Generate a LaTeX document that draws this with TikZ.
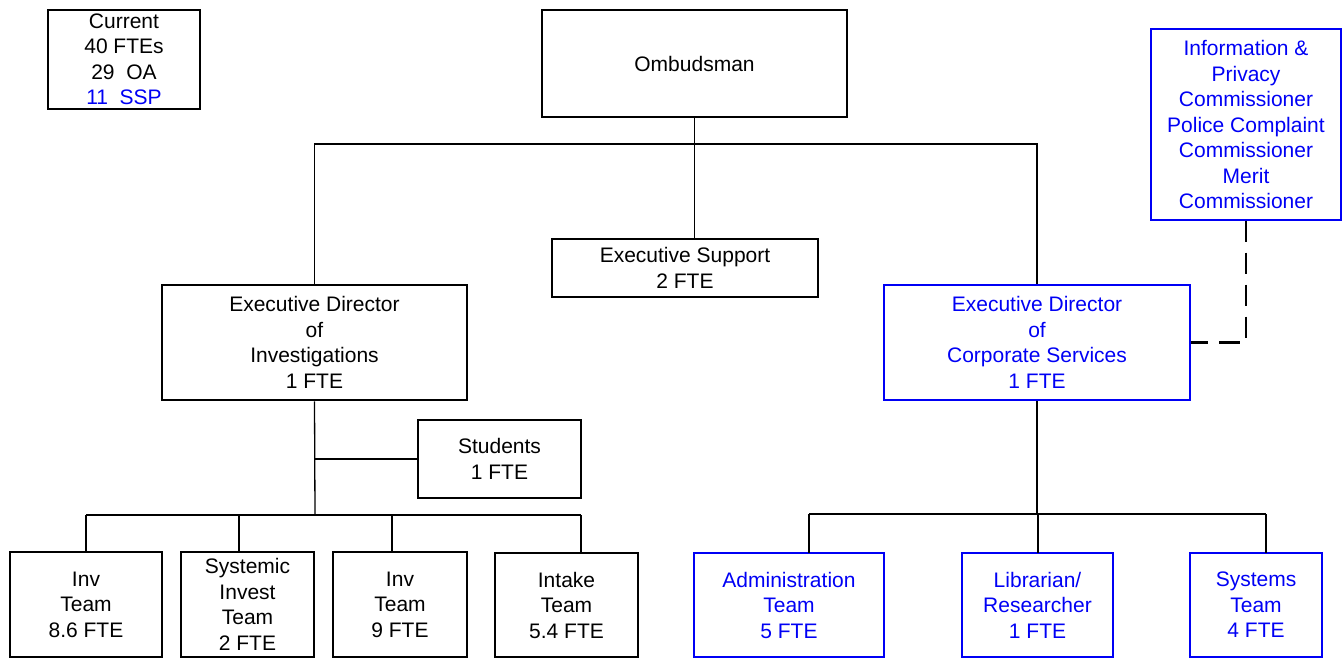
\documentclass[tikz,border=0pt]{standalone}
\usepackage{fontspec}
\setmainfont{Liberation Sans}
\definecolor{orgblue}{RGB}{0,0,245}
\tikzset{
  unit/.style={draw, inner sep=0pt, align=center,
    font=\fontsize{21}{25.5}\selectfont},
  thinbox/.style={unit, line width=1.4pt},
  thickbox/.style={unit, line width=2.6pt},
  bluethin/.style={thinbox, draw=orgblue, text=orgblue},
  bluethick/.style={thickbox, draw=orgblue, text=orgblue},
  link/.style={line width=1.3pt},
  dotted link/.style={line width=2.8pt, dash pattern=on 21pt off 11pt},
}
\begin{document}
\begin{tikzpicture}[x=1pt,y=-1pt]
\useasboundingbox (0,0) rectangle (1343,658);

% staffing summary
\node[thinbox, minimum width=152pt, minimum height=99pt] (cur) at (124,59.5)
  {Current\\40 FTEs\\29\ \ OA\\\textcolor{orgblue}{11\ \ SSP}};

% top level
\node[thickbox, minimum width=305pt, minimum height=107pt] (omb) at (694.5,63.5) {Ombudsman};
\node[bluethin, minimum width=190pt, minimum height=191pt] (info) at (1246,124.5)
  {Information \&\\Privacy\\Commissioner\\Police Complaint\\Commissioner\\Merit\\Commissioner};

% second level
\node[thinbox, minimum width=266pt, minimum height=58pt] (es) at (685,268)
  {Executive Support\\2 FTE};
\node[thickbox, minimum width=305pt, minimum height=115pt] (edi) at (314.5,342.5)
  {Executive Director\\of\\Investigations\\1 FTE};
\node[bluethick, minimum width=306pt, minimum height=115pt] (edc) at (1037,342.5)
  {Executive Director\\of\\Corporate Services\\1 FTE};

% investigations branch
\node[thickbox, minimum width=163pt, minimum height=78pt] (stu) at (499.5,459)
  {Students\\1 FTE};
\node[thickbox, minimum width=152pt, minimum height=105pt] (inva) at (86,604.5)
  {Inv\\Team\\8.6 FTE};
\node[thickbox, minimum width=133pt, minimum height=105pt] (sys) at (247.5,604.5)
  {Systemic\\Invest\\Team\\2 FTE};
\node[thickbox, minimum width=134pt, minimum height=105pt] (invb) at (400,604.5)
  {Inv\\Team\\9 FTE};
\node[thickbox, minimum width=143pt, minimum height=104pt] (intk) at (566.5,605)
  {Intake\\Team\\5.4 FTE};

% corporate services branch
\node[bluethick, minimum width=190pt, minimum height=104pt] (adm) at (789,605)
  {Administration\\Team\\5 FTE};
\node[bluethick, minimum width=151pt, minimum height=104pt] (lib) at (1037.5,605)
  {Librarian/\\Researcher\\1 FTE};
\node[bluethick, minimum width=132pt, minimum height=104pt] (syt) at (1256,605)
  {Systems\\Team\\4 FTE};

% bus junctions
\coordinate (topbus) at (695,144);
\coordinate (invbus) at (315,515);
\coordinate (stubr) at (315,459);
\coordinate (corpbus) at (1037,514);
\coordinate (dashturn) at (1246,342.5);

% top level connectors
\draw[link] (omb.south) -- (omb.south |- es.north);
\draw[link] (edi.north) -- (edi.north |- topbus) -- (edc.north |- topbus) -- (edc.north);

% investigations connectors
\draw[link] (edi.south) -- (invbus);
\draw[link] (stubr) -- (stu.west);
\draw[link] (86,515) -- (581,515);
\draw[link] (inva.north) -- (86,515);
\draw[link] (239,515) -- (239,552);
\draw[link] (392,515) -- (392,552);
\draw[link] (581,515) -- (581,553);

% corporate services connectors
\draw[link] (edc.south) -- (corpbus);
\draw[link] (809,514) -- (1266,514);
\draw[link] (809,514) -- (809,553);
\draw[link] (1038,514) -- (1038,553);
\draw[link] (1266,514) -- (1266,553);

% commissioners reporting line
\draw[dotted link] (info.south) -- (dashturn) -- (edc.east);
\end{tikzpicture}
\end{document}
